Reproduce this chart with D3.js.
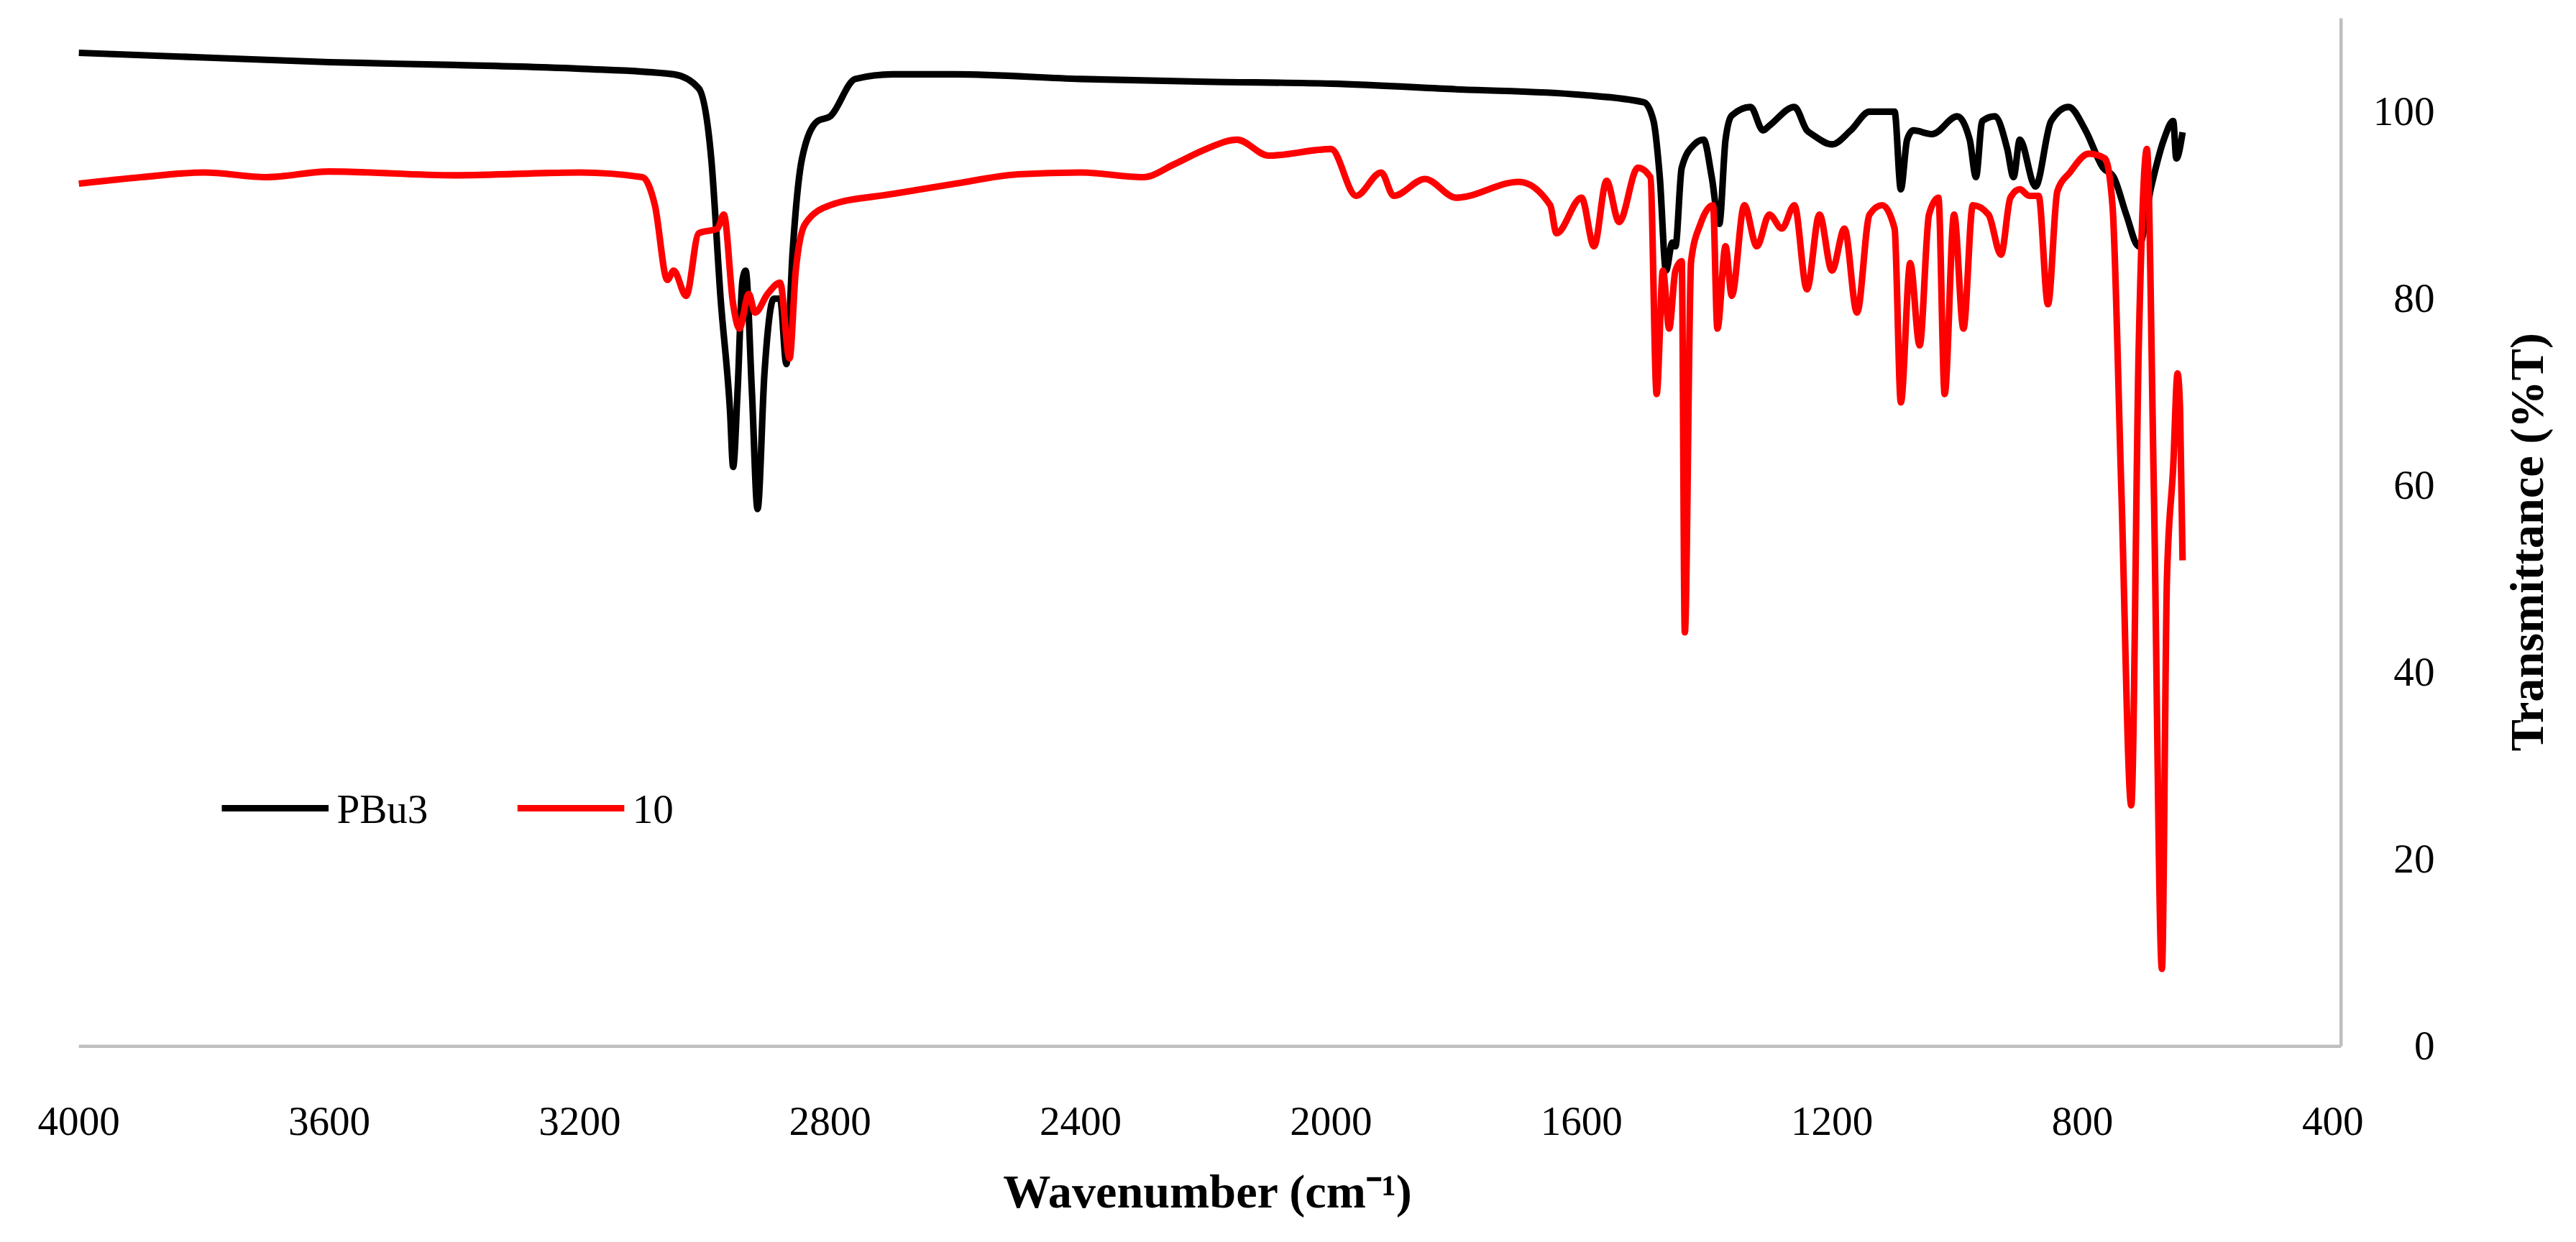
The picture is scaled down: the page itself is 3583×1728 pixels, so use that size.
<!DOCTYPE html>
<html lang="en">
<head>
<meta charset="UTF-8">
<title>IR spectra</title>
<style>
  body { margin: 0; background: #fff; }
  svg { display: block; font-family: 'Liberation Serif', 'Times New Roman', serif; }
</style>
</head>
<body>
<svg width="3583" height="1728" viewBox="0 0 1568 756"></svg>
<script src="https://cdn.jsdelivr.net/npm/d3@7"></script>
<script>
// [wavenumber, %T]
const pbu3 = [[4000,106.3],[3800,105.8],[3600,105.3],[3400,105],[3200,104.6],[3050,104],[3010,102.5],[2990,95],[2975,80],[2960,68],[2955,62],[2948,70],[2940,82],[2935,83],[2925,70],[2916,57.5],[2905,72],[2890,80],[2880,80],[2870,73],[2860,85],[2845,95],[2820,99],[2800,99.5],[2760,103.5],[2700,104],[2600,104],[2400,103.5],[2200,103.2],[2000,103],[1800,102.4],[1600,101.8],[1500,101],[1485,99],[1475,93],[1465,83],[1455,86],[1450,85.6],[1440,94],[1420,96.5],[1405,97],[1392,93],[1380,88],[1370,97],[1360,99.6],[1330,100.5],[1310,98],[1300,98.5],[1260,100.5],[1240,98],[1230,97.5],[1200,96.5],[1170,98],[1140,100],[1100,100],[1090,91.7],[1080,97],[1070,98],[1040,97.6],[1000,99.5],[980,97],[970,93],[960,99],[940,99.5],[920,96],[910,93],[900,97],[875,92],[850,99],[822,100.5],[795,98],[767,94],[750,93],[730,89],[710,85.6],[690,92],[670,97],[655,99],[650,95],[640,97.8]];
const red10 = [[4000,92.3],[3900,93],[3800,93.5],[3700,93],[3600,93.6],[3400,93.2],[3200,93.5],[3100,93],[3080,90],[3060,82],[3050,83],[3030,80.3],[3010,87],[2980,87.5],[2970,89],[2955,79.4],[2945,76.8],[2930,80.5],[2920,78.5],[2900,80.5],[2880,81.7],[2865,73.6],[2855,83],[2840,88],[2800,90],[2700,91.2],[2600,92.3],[2500,93.3],[2400,93.5],[2300,93],[2250,94.4],[2200,96],[2150,97],[2100,95.3],[2000,96],[1960,91],[1920,93.5],[1900,91],[1850,92.8],[1800,90.8],[1700,92.5],[1650,90],[1640,87],[1600,90.8],[1580,85.6],[1560,92.6],[1540,88.2],[1510,94],[1490,93],[1480,69.8],[1470,83],[1460,76.8],[1450,83],[1440,84],[1435,44.3],[1425,84],[1410,88],[1390,90],[1383,76.8],[1370,85.6],[1360,80.3],[1340,90],[1320,85.6],[1300,89],[1280,87.5],[1260,90],[1240,81],[1220,89],[1200,83],[1180,87.5],[1160,78.5],[1140,89],[1120,90],[1100,87.5],[1090,68.9],[1075,83.8],[1060,75],[1045,89],[1030,90.8],[1020,69.8],[1005,89],[990,76.8],[975,90],[950,89],[930,84.7],[915,90.8],[900,91.7],[885,91],[870,91],[855,79.4],[840,91.5],[820,93.5],[790,95.5],[764,95],[752,90],[738,60],[722,25.8],[710,75],[697,96],[686,60],[673,8.3],[665,50],[655,62],[648,72],[644,68],[640,52]];
const series = [
  { name: "PBu3", color: "#000", data: pbu3 },
  { name: "10", color: "#ff0000", data: red10 }
];
const xTicks = [4000, 3600, 3200, 2800, 2400, 2000, 1600, 1200, 800, 400];
const yTicks = [0, 20, 40, 60, 80, 100];

const svg = d3.select("svg");
const x = d3.scaleLinear().domain([4000, 400]).range([48, 1420]);
const y = d3.scaleLinear().domain([0, 110]).range([637, 11]);

// axis lines
svg.append("line").attr("x1", 48).attr("x2", 1425).attr("y1", 637).attr("y2", 637)
  .attr("stroke", "#bfbfbf").attr("stroke-width", 2);
svg.append("line").attr("x1", 1425).attr("x2", 1425).attr("y1", 11).attr("y2", 637)
  .attr("stroke", "#bfbfbf").attr("stroke-width", 2);

svg.append("g").selectAll("text").data(xTicks).join("text")
  .attr("x", d => x(d)).attr("y", 691).attr("text-anchor", "middle")
  .attr("font-size", 25).text(d => d);
svg.append("g").selectAll("text").data(yTicks).join("text")
  .attr("x", 1482).attr("y", d => y(d) + 8).attr("text-anchor", "end")
  .attr("font-size", 25).text(d => d);

svg.append("text").attr("x", 735).attr("y", 735).attr("text-anchor", "middle")
  .attr("font-size", 29).attr("font-weight", "bold").text("Wavenumber (cm\u207B\u00B9)");
svg.append("text").attr("transform", "translate(1548,330) rotate(-90)")
  .attr("text-anchor", "middle").attr("font-size", 29).attr("font-weight", "bold")
  .text("Transmittance (%T)");

const line = d3.line().x(d => x(d[0])).y(d => y(d[1])).curve(d3.curveMonotoneX);
svg.append("g").selectAll("path").data(series).join("path")
  .attr("d", d => line(d.data)).attr("fill", "none")
  .attr("stroke", d => d.color).attr("stroke-width", 4).attr("stroke-linejoin", "round");

// legend
const lg = svg.append("g").selectAll("g").data(series).join("g")
  .attr("transform", (d, i) => `translate(${135 + i * 180},492)`);
lg.append("line").attr("x1", 0).attr("x2", 65).attr("stroke", d => d.color).attr("stroke-width", 4);
lg.append("text").attr("x", 70).attr("y", 9).attr("font-size", 25).text(d => d.name);
</script>
</body>
</html>
